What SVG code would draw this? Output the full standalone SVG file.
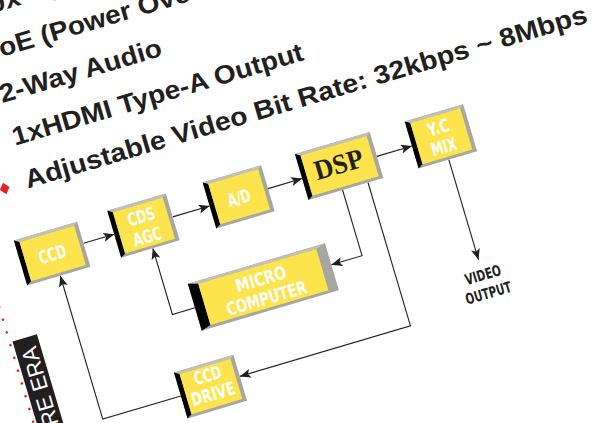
<svg xmlns="http://www.w3.org/2000/svg" width="608" height="423" viewBox="0 0 608 423">
<defs>
<style>
.hd{font-family:"Liberation Sans",Arial,sans-serif;font-weight:bold;font-size:26px;fill:#231f20}
.bx{font-family:"Liberation Sans Narrow","DejaVu Sans Condensed","Liberation Sans",sans-serif;font-weight:bold;font-size:18px;fill:#fff;text-anchor:middle}
.lbl{font-family:"Liberation Sans Narrow","DejaVu Sans Condensed","Liberation Sans",sans-serif;font-weight:bold;font-size:15px;fill:#231f20;text-anchor:middle}
.dsp{font-family:"Liberation Serif","Times New Roman",serif;font-weight:bold;font-size:28px;fill:#231f20;text-anchor:middle}
.gr{fill:#a6a8a0}
.tp{fill:#c0c1b9}
.bk{fill:#000}
.ye{fill:#fde44c}
.cn{fill:none;stroke:#231f20;stroke-width:1.1}
</style>
<marker id="ar" markerUnits="userSpaceOnUse" markerWidth="12" markerHeight="10" refX="11" refY="4.5" orient="auto">
<path d="M0,0 L11,4.5 L0,9 L2.5,4.5 z" fill="#231f20"/>
</marker>
</defs>
<rect width="608" height="423" fill="#fff"/>
<g transform="rotate(-16.5)">
<g id="headings">
<polygon points="-49,176 -44,182 -49,188 -54,182" fill="#e31e24"/>
<g transform="translate(-27,0) scale(1.08,1)">
<text class="hd" x="0" y="10.5">10x Optical Zoom</text>
<text class="hd" x="-6" y="55">PoE (Power Over Ethernet)</text>
<text class="hd" x="0" y="99.5">2-Way Audio</text>
<text class="hd" x="0" y="144">1xHDMI Type-A Output</text>
<text class="hd" x="0" y="188.5" textLength="542" lengthAdjust="spacingAndGlyphs">Adjustable Video Bit Rate: 32kbps ~ 8Mbps</text>
</g>
</g>
<g id="side-band">
<line x1="-88" y1="294" x2="-88" y2="480" stroke="#e8212b" stroke-width="2.6" stroke-linecap="round" stroke-dasharray="0 13.3"/>
<rect x="-85" y="331" width="25.5" height="160" fill="#231f20"/>
<text transform="translate(-64,341) rotate(-90)" text-anchor="end" font-family="Liberation Sans, Arial, sans-serif" font-size="22" fill="#fff">RE ERA</text>
</g>
<g id="connectors">
<path class="cn" d="M11,257 H43" marker-end="url(#ar)"/>
<path class="cn" d="M104,257 H142.5" marker-end="url(#ar)"/>
<path class="cn" d="M203.5,257 H239" marker-end="url(#ar)"/>
<path class="cn" d="M317,257 H353.5" marker-end="url(#ar)"/>
<path class="cn" d="M385,280.5 V385" marker-end="url(#ar)"/>
<path class="cn" d="M274.5,279.5 V348 H242.5" marker-end="url(#ar)"/>
<path class="cn" d="M301,279.5 V429 H123" marker-end="url(#ar)"/>
<path class="cn" d="M61,431 H-20.5 V281.5" marker-end="url(#ar)"/>
<path class="cn" d="M99.5,350.5 H76 V281.5" marker-end="url(#ar)"/>
</g>
<g id="ccd">
<rect class="gr" x="-55" y="234.5" width="66" height="47"/>
<polygon class="tp" points="-55,234.5 11,234.5 7,237.5 -50,237.5"/>
<polygon class="bk" points="-55,234.5 -50,237.5 -50,278.5 -55,281.5"/>
<rect class="ye" x="-50" y="237.5" width="57" height="41"/>
<text class="bx" x="-22" y="265" textLength="28" lengthAdjust="spacingAndGlyphs">CCD</text>
</g>
<g id="cds-agc">
<rect class="gr" x="43" y="232.5" width="61" height="49"/>
<polygon class="tp" points="43,232.5 104,232.5 100,235.5 48,235.5"/>
<polygon class="bk" points="43,232.5 48,235.5 48,278.5 43,281.5"/>
<rect class="ye" x="48" y="235.5" width="52" height="43"/>
<text class="bx" x="74" y="254" textLength="28" lengthAdjust="spacingAndGlyphs">CDS</text>
<text class="bx" x="74" y="275" textLength="29" lengthAdjust="spacingAndGlyphs">AGC</text>
</g>
<g id="ad">
<rect class="gr" x="142.5" y="232.5" width="61" height="48"/>
<polygon class="tp" points="142.5,232.5 203.5,232.5 199.5,235.5 147.5,235.5"/>
<polygon class="bk" points="142.5,232.5 147.5,235.5 147.5,277.5 142.5,280.5"/>
<rect class="ye" x="147.5" y="235.5" width="52" height="42"/>
<text class="bx" x="173" y="264" textLength="23" lengthAdjust="spacingAndGlyphs">A/D</text>
</g>
<g id="dsp">
<rect class="gr" x="239" y="231.5" width="78" height="48"/>
<polygon class="tp" points="239,231.5 317,231.5 313,234.5 244,234.5"/>
<polygon class="bk" points="239,231.5 244,234.5 244,276.5 239,279.5"/>
<rect class="ye" x="244" y="234.5" width="69" height="42"/>
<text class="dsp" x="278" y="263" textLength="50" lengthAdjust="spacingAndGlyphs">DSP</text>
</g>
<g id="yc-mix">
<rect class="gr" x="353.5" y="231.5" width="61" height="49"/>
<polygon class="tp" points="353.5,231.5 414.5,231.5 410.5,234.5 358.5,234.5"/>
<polygon class="bk" points="353.5,231.5 358.5,234.5 358.5,277.5 353.5,280.5"/>
<rect class="ye" x="358.5" y="234.5" width="52" height="43"/>
<text class="bx" x="384" y="253" textLength="22" lengthAdjust="spacingAndGlyphs">Y.C</text>
<text class="bx" x="384" y="273" textLength="26" lengthAdjust="spacingAndGlyphs">MIX</text>
</g>
<g id="micro-computer">
<rect class="gr" x="99.5" y="325.5" width="143" height="49"/>
<polygon class="tp" points="99.5,325.5 242.5,325.5 232.5,328.5 109.5,328.5"/>
<polygon class="bk" points="99.5,325.5 109.5,328.5 109.5,371.5 99.5,374.5"/>
<rect class="ye" x="109.5" y="328.5" width="123" height="43"/>
<text class="bx" x="171" y="348" textLength="52" lengthAdjust="spacingAndGlyphs">MICRO</text>
<text class="bx" x="171" y="368" textLength="83" lengthAdjust="spacingAndGlyphs">COMPUTER</text>
</g>
<g id="ccd-drive">
<rect class="gr" x="61" y="406.5" width="62" height="48"/>
<polygon class="tp" points="61,406.5 123,406.5 119,409.5 66,409.5"/>
<polygon class="bk" points="61,406.5 66,409.5 66,451.5 61,454.5"/>
<rect class="ye" x="66" y="409.5" width="53" height="42"/>
<text class="bx" x="92.5" y="425" textLength="28" lengthAdjust="spacingAndGlyphs">CCD</text>
<text class="bx" x="92.5" y="444.5" textLength="45" lengthAdjust="spacingAndGlyphs">DRIVE</text>
</g>
<g id="video-output">
<text class="lbl" x="385" y="406" textLength="37" lengthAdjust="spacingAndGlyphs">VIDEO</text>
<text class="lbl" x="385" y="425" textLength="47" lengthAdjust="spacingAndGlyphs">OUTPUT</text>
</g>
</g>
</svg>
